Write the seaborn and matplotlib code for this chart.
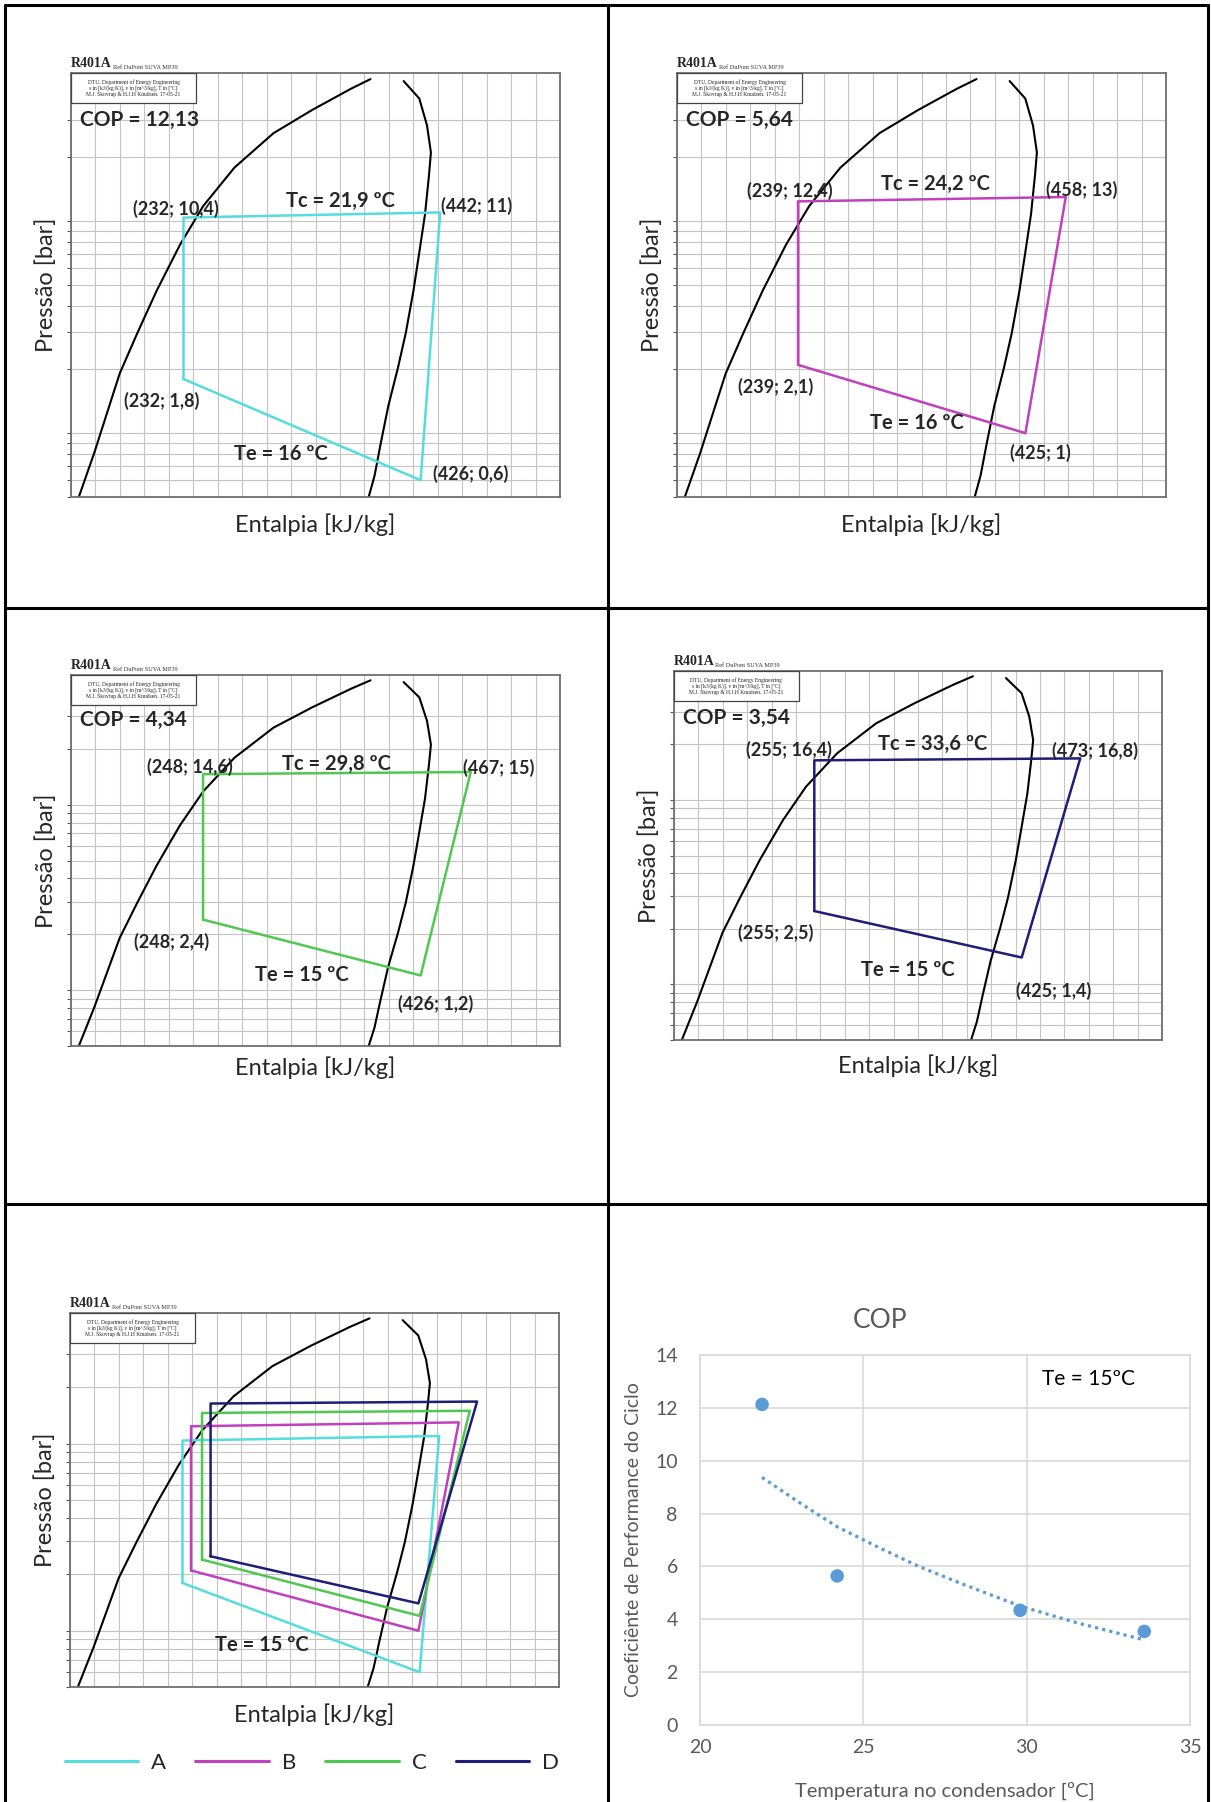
import matplotlib.pyplot as plt
import seaborn as sns
from matplotlib.lines import Line2D
from matplotlib.patches import Rectangle

sns.set_theme(style="white")
plt.rcParams["font.family"] = ["Lato", "DejaVu Sans"]

W, H = 1211, 1802

# R401A saturation dome (h in kJ/kg, p in bar)
liq_h = [146.4, 159.1, 179.8, 194.2, 210.0, 229.2, 248.2, 273.7, 305.6, 337.4, 369.2, 385.0]
liq_p = [0.50, 0.81, 1.91, 2.96, 4.69, 7.75, 11.8, 17.9, 26.0, 33.5, 42.2, 46.8]
vap_h = [412.1, 424.9, 431.2, 434.4, 432.8, 429.6, 424.9, 420.1, 413.8, 407.4, 399.5, 393.1, 388.3, 383.5]
vap_p = [45.8, 37.9, 28.3, 21.1, 16.4, 10.8, 7.12, 4.69, 2.96, 2.03, 1.34, 0.88, 0.63, 0.50]

# cycle corners: evaporator inlet, compressor inlet, compressor outlet, condenser outlet
cycle_names = ["A", "B", "C", "D"]
h_A = [232, 426, 442, 232]
p_A = [1.8, 0.6, 11, 10.4]
h_B = [239, 425, 458, 239]
p_B = [2.1, 1.0, 13, 12.4]
h_C = [248, 426, 467, 248]
p_C = [2.4, 1.2, 15, 14.6]
h_D = [255, 425, 473, 255]
p_D = [2.5, 1.4, 16.8, 16.4]

cop = [12.13, 5.64, 4.34, 3.54]
tc = [21.9, 24.2, 29.8, 33.6]
te = [16, 16, 15, 15]

# dotted trend line of the COP chart
trend_x = [21.9, 23.0, 24.2, 25.5, 26.7, 28.0, 29.8, 31.5, 33.6]
trend_y = [9.37, 8.45, 7.5, 6.7, 6.0, 5.35, 4.5, 3.88, 3.22]

cycles = [(h_A, p_A), (h_B, p_B), (h_C, p_C), (h_D, p_D)]
colors = ["#55dcdc", "#c040c0", "#50c850", "#1e1e78"]

h_grid = list(range(140, 541, 20))
p_grid = [0.5, 0.6, 0.7, 0.8, 0.9, 1, 2, 3, 4, 5, 6, 7, 8, 9, 10, 20, 30]

fig = plt.figure(figsize=(W / 100, H / 100), dpi=100)


def px_axes(x0, y0, x1, y1):
    return fig.add_axes([x0 / W, 1 - y1 / H, (x1 - x0) / W, (y1 - y0) / H])


def fmt(v):
    return f"{v:g}".replace(".", ",")


def draw_ph(ax, box_h, xlab_gap=28):
    ax.set_yscale("log")
    for h in h_grid:
        ax.axvline(h, color="#c4c4c4", lw=0.8, zorder=0)
    for p in p_grid:
        ax.axhline(p, color="#c4c4c4", lw=0.8, zorder=0)
    sns.lineplot(x=liq_h, y=liq_p, sort=False, estimator=None, color="black", lw=1.5, ax=ax)
    sns.lineplot(x=vap_h, y=vap_p, sort=False, estimator=None, color="black", lw=1.5, ax=ax)
    ax.set_xlim(140, 540)
    ax.set_ylim(0.5, 50)
    ax.set_xticks([])
    ax.set_yticks(p_grid)
    ax.set_yticklabels([])
    ax.minorticks_off()
    ax.tick_params(axis="y", left=True, length=3, width=0.8, color="#555555")
    ax.set_xlabel("")
    ax.set_ylabel("")
    for s in ax.spines.values():
        s.set_color("#6e6e6e")
        s.set_linewidth(1.3)
    # chart header and info box
    ax.text(0, 1.008, "R401A", transform=ax.transAxes, family="Liberation Serif",
            fontweight="bold", fontsize=10, va="bottom", ha="left")
    ax.text(0.085, 1.008, "Ref DuPont SUVA MP39", transform=ax.transAxes,
            family="Liberation Serif", fontsize=4.5, va="bottom", ha="left", color="#333333")
    bw, bh = 125 / 489, 30 / box_h
    ax.add_patch(Rectangle((0, 1 - bh), bw, bh, transform=ax.transAxes, facecolor="white",
                           edgecolor="#444444", lw=0.9, zorder=5))
    ax.text(bw / 2, 1 - bh / 2,
            "DTU, Department of Energy Engineering\n"
            "s in [kJ/(kg K)], v in [m^3/kg], T in [ºC]\n"
            "M.J. Skovrup & H.J.H Knudsen. 17-05-21",
            transform=ax.transAxes, family="Liberation Serif", fontsize=4.0,
            ha="center", va="center", linespacing=1.15, zorder=6, color="#222222")
    ax.text(-25 / 489, 0.5, "Pressão [bar]", transform=ax.transAxes, rotation=90,
            ha="center", va="center", fontsize=17)
    ax.text(0.5, -xlab_gap / box_h, "Entalpia [kJ/kg]", transform=ax.transAxes,
            ha="center", va="center", fontsize=17)


def draw_cycle(ax, i):
    h, p = cycles[i]
    sns.lineplot(x=h + [h[0]], y=p + [p[0]], sort=False, estimator=None,
                 color=colors[i], lw=1.8, ax=ax)


# label offsets in pixels for each single-cycle panel
panels = [
    dict(rect=(71, 73, 560, 497), gap=28, cop=47, tl=(-8, 9), tr=(36, 6), bl=(-22, -22),
         br=(50, 6), tc=(29, 14), te=(-21, -24)),
    dict(rect=(677, 73, 1166, 497), gap=28, cop=47, tl=(-8, 10), tr=(16, 7), bl=(-22, -22),
         br=(15, -20), tc=(4, 15), te=(5, -24)),
    dict(rect=(71, 675, 560, 1046), gap=22, cop=45, tl=(-13, 7), tr=(28, 4), bl=(-31, -22),
         br=(15, -28), tc=(0, 9), te=(-10, -27)),
    dict(rect=(674, 671, 1162, 1040), gap=26, cop=47, tl=(-25, 10), tr=(15, 7), bl=(-39, -22),
         br=(32, -33), tc=(-15, 15), te=(-10, -36)),
]

lab = dict(fontweight="bold", textcoords="offset pixels", ha="center", va="center")

for i, pan in enumerate(panels):
    x0, y0, x1, y1 = pan["rect"]
    ax = px_axes(*pan["rect"])
    box_h = y1 - y0
    draw_ph(ax, box_h, pan["gap"])
    draw_cycle(ax, i)
    h, p = cycles[i]
    ax.text(9 / 489, 1 - pan["cop"] / box_h, f"COP = {cop[i]:.2f}".replace(".", ","),
            transform=ax.transAxes, fontweight="bold", fontsize=15, ha="left", va="center")
    ax.annotate(f"({fmt(h[3])}; {fmt(p[3])})", (h[3], p[3]), xytext=pan["tl"], fontsize=13, **lab)
    ax.annotate(f"({fmt(h[2])}; {fmt(p[2])})", (h[2], p[2]), xytext=pan["tr"], fontsize=13, **lab)
    ax.annotate(f"({fmt(h[0])}; {fmt(p[0])})", (h[0], p[0]), xytext=pan["bl"], fontsize=13, **lab)
    ax.annotate(f"({fmt(h[1])}; {fmt(p[1])})", (h[1], p[1]), xytext=pan["br"], fontsize=13, **lab)
    mid_top = ((h[2] + h[3]) / 2, (p[2] * p[3]) ** 0.5)
    mid_bot = ((h[0] + h[1]) / 2, (p[0] * p[1]) ** 0.5)
    ax.annotate(f"Tc = {tc[i]:.1f} ºC".replace(".", ","), mid_top, xytext=pan["tc"],
                fontsize=14.5, **lab)
    ax.annotate(f"Te = {te[i]} ºC", mid_bot, xytext=pan["te"], fontsize=14.5, **lab)

# combined diagram
ax5 = px_axes(70, 1313, 559, 1687)
draw_ph(ax5, 1687 - 1313)
for i in range(4):
    draw_cycle(ax5, i)
ax5.text(0.393, 0.112, "Te = 15 ºC", transform=ax5.transAxes, fontweight="bold",
         fontsize=14.5, ha="center", va="center")
handles = [Line2D([], [], color=c, lw=2.2) for c in colors]
fig.legend(handles, cycle_names, loc="center", bbox_to_anchor=(312 / W, 1 - 1763 / H),
           ncol=4, frameon=False, fontsize=16, handlelength=3.3, handletextpad=0.6,
           columnspacing=1.3)

# COP vs condenser temperature
axc = px_axes(700, 1355, 1190, 1725)
sns.lineplot(x=trend_x, y=trend_y, color="#5b9bd5", lw=2.3, linestyle=(0, (1, 1.3)), ax=axc)
sns.scatterplot(x=tc, y=cop, color="#5b9bd5", s=95, edgecolor="none", ax=axc, zorder=3)
axc.set_xlim(20, 35)
axc.set_ylim(0, 14)
axc.set_xticks([20, 25, 30, 35])
axc.set_yticks(range(0, 15, 2))
axc.grid(True, color="#d9d9d9", lw=1.2)
for s in axc.spines.values():
    s.set_color("#d9d9d9")
    s.set_linewidth(1.2)
axc.tick_params(colors="#595959", labelsize=14, length=0)
axc.tick_params(axis="y", pad=16)
axc.tick_params(axis="x", pad=10)
axc.set_xlabel("")
axc.set_ylabel("")
axc.text(31.9, 13.1, "Te = 15ºC", fontsize=15, ha="center", va="center", color="black")
fig.text(880 / W, 1 - 1320 / H, "COP", fontsize=19, color="#595959", ha="center", va="center")
fig.text(945 / W, 1 - 1791 / H, "Temperatura no condensador [ºC]", fontsize=14.5,
         color="#595959", ha="center", va="center")
fig.text(634 / W, 1 - 1540 / H, "Coeficiênte de Performance do Ciclo", fontsize=14,
         color="#595959", ha="center", va="center", rotation=90)


# table borders (the page is cut just below the last row)
def hline(y, x0=5, x1=1208):
    fig.add_artist(Line2D([x0 / W, x1 / W], [1 - y / H, 1 - y / H], color="black", lw=2.2))


def vline(x, y0=5, y1=1802):
    fig.add_artist(Line2D([x / W, x / W], [1 - y0 / H, 1 - y1 / H], color="black", lw=2.2))


for y in [5, 608, 1204]:
    hline(y)
for x in [5, 608, 1208]:
    vline(x)

fig.savefig("out.png", dpi=100)
